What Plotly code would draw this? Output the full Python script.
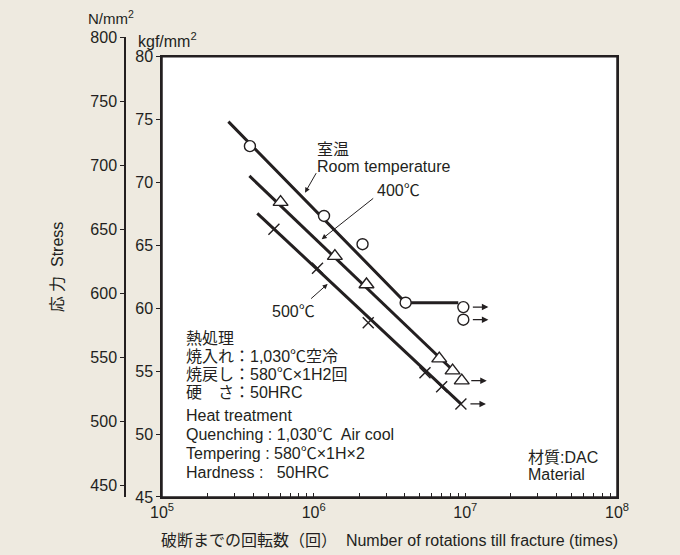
import math
import plotly.graph_objects as go

G = 9.80665  # N per kgf

# ---------------- data ----------------
rt_x = [3.8e5, 1.17e6, 2.1e6, 4.04e6]
rt_y = [72.9, 67.35, 65.1, 60.45]
rt_run_x = [9.7e6, 9.7e6]
rt_run_y = [60.1, 59.1]
rt_line_x = [2.74e5, 4.04e6, 8.98e6]
rt_line_y = [74.85, 60.45, 60.45]

t400_x = [6.05e5, 1.38e6, 2.23e6, 6.73e6, 8.24e6]
t400_y = [68.45, 64.15, 61.9, 56.0, 55.05]
t400_run_x = [9.47e6]
t400_run_y = [54.25]
t400_line_x = [3.77e5, 8.24e6]
t400_line_y = [70.53, 55.1]

c500_x = [5.47e5, 1.06e6, 2.29e6, 5.42e6, 6.98e6]
c500_y = [66.29, 63.19, 58.86, 54.88, 53.77]
c500_run_x = [9.35e6]
c500_run_y = [52.4]
c500_line_x = [4.25e5, 9.35e6]
c500_line_y = [67.56, 52.4]

kgf_ticks = [45, 50, 55, 60, 65, 70, 75, 80]
n_ticks = [450, 500, 550, 600, 650, 700, 750, 800]
x_decades = [5, 6, 7, 8]

jp_lines = ["熱処理", "焼入れ：1,030℃空冷", "焼戻し：580℃×1H2回", "硬　さ：50HRC"]
en_lines = ["Heat treatment", "Quenching : 1,030℃  Air cool", "Tempering : 580℃×1H×2", "Hardness :   50HRC"]

# ---------------- layout geometry ----------------
W, H = 680, 555
L, R, T, B = 125, 63, 37, 58
PW, PH = W - L - R, H - T - B
x_dom0 = (162 - L) / PW
y_top = (80 * G - 45 * G) / (800 - 45 * G)

BG = "#EEEAE0"
INK = "#231F20"
FONT = "Liberation Sans, Arial, Noto Sans CJK JP, sans-serif"


def px(xp):
    return (xp - L) / PW


def py(yp):
    return (H - B - yp) / PH


# x ticks: decades labelled, 2..9 unlabelled
x_tickvals, x_ticktext = [], []
for d in x_decades:
    x_tickvals.append(10 ** d)
    x_ticktext.append(f"10<sup>{d}</sup>")
    if d < x_decades[-1]:
        for m in range(2, 10):
            x_tickvals.append(m * 10 ** d)
            x_ticktext.append("")

fig = go.Figure()

LINE = dict(color=INK, width=3)
# lines
fig.add_trace(go.Scatter(x=rt_line_x, y=rt_line_y, mode="lines", line=LINE, hoverinfo="skip"))
fig.add_trace(go.Scatter(x=t400_line_x, y=t400_line_y, mode="lines", line=LINE, hoverinfo="skip"))
fig.add_trace(go.Scatter(x=c500_line_x, y=c500_line_y, mode="lines", line=LINE, hoverinfo="skip"))

circ = dict(symbol="circle", size=11, color="white", line=dict(color=INK, width=1.4))
tri = dict(symbol="triangle-up", size=13, color="white", line=dict(color=INK, width=1.4))
crs = dict(symbol="x-thin", size=11, color=INK, line=dict(color=INK, width=1.4))

fig.add_trace(go.Scatter(x=rt_x + rt_run_x, y=rt_y + rt_run_y, mode="markers", marker=circ))
fig.add_trace(go.Scatter(x=t400_x + t400_run_x, y=t400_y + t400_run_y, mode="markers", marker=tri))
fig.add_trace(go.Scatter(x=c500_x + c500_run_x, y=c500_y + c500_run_y, mode="markers", marker=crs))

# dummy trace for the N/mm2 axis
fig.add_trace(go.Scatter(x=[1e6], y=[600], xaxis="x", yaxis="y2", mode="markers",
                         marker=dict(opacity=0), hoverinfo="skip"))

# white plotting area with its frame
fig.add_shape(type="rect", xref="x domain", yref="y domain", x0=0, x1=1, y0=0, y1=1,
              fillcolor="white", line=dict(width=1.5, color=INK), layer="below")

anns = []
# run-out arrows
for xs, ys in [(rt_run_x, rt_run_y), (t400_run_x, t400_run_y), (c500_run_x, c500_run_y)]:
    for xv, yv in zip(xs, ys):
        anns.append(dict(x=math.log10(xv) + 0.165, y=yv, xref="x", yref="y", text="",
                         showarrow=True, ax=-17, ay=0, arrowhead=2, arrowsize=1,
                         arrowwidth=1.3, arrowcolor=INK))

# callout arrows
for (xl, yv, ax, ay) in [(5.943, 69.2, 12, -21), (6.053, 65.5, 53, -42), (6.092, 61.94, -18, 16)]:
    anns.append(dict(x=xl, y=yv, xref="x", yref="y", text="", showarrow=True,
                     ax=ax, ay=ay, arrowhead=2, arrowsize=1, arrowwidth=1, arrowcolor=INK))


def text(t, xp, yp, anchor="left", size=16):
    anns.append(dict(x=px(xp), y=py(yp), xref="paper", yref="paper", text=t,
                     showarrow=False, xanchor=anchor, yanchor="middle",
                     font=dict(family=FONT, size=size, color=INK)))


text("室温", 315, 149)
text("Room temperature", 315, 166)
text("400℃", 375, 191)
text("500℃", 270, 311)

for i, s in enumerate(jp_lines):
    text(s, 184, 338 + i * 18.2)
for i, s in enumerate(en_lines):
    text(s, 184, 415 + i * 19.3)

text("材質:DAC", 526, 457)
text("Material", 526, 474)

text("N/mm<sup>2</sup>", 111, 18, anchor="center", size=15)
text("kgf/mm<sup>2</sup>", 136, 40)

fig.update_layout(
    width=W, height=H,
    margin=dict(l=L, r=R, t=T, b=B, autoexpand=False),
    paper_bgcolor=BG, plot_bgcolor="rgba(0,0,0,0)",
    showlegend=False,
    font=dict(family=FONT, size=16, color=INK),
    annotations=anns,
    xaxis=dict(type="log", range=[5, 8], domain=[x_dom0, 1], anchor="y",
               tickvals=x_tickvals, ticktext=x_ticktext, ticks="inside", ticklen=4,
               tickcolor=INK, tickwidth=1, showline=True, linecolor=INK, linewidth=1.5,
               mirror=True, showgrid=False, zeroline=False,
               tickfont=dict(size=16, color=INK),
               title=dict(text="破断までの回転数（回）  Number of rotations till fracture (times)",
                          font=dict(size=16, color=INK), standoff=15)),
    yaxis=dict(range=[45, 80], domain=[0, y_top], anchor="x",
               tickvals=kgf_ticks, ticks="outside", ticklen=4, tickcolor=INK,
               showline=True, linecolor=INK, linewidth=1.5, mirror=True,
               showgrid=False, zeroline=False, tickfont=dict(size=16, color=INK)),
    yaxis2=dict(range=[45 * G, 800], domain=[0, 1], anchor="free", position=0, side="left",
                tickvals=n_ticks, ticks="outside", ticklen=4, tickcolor=INK,
                showline=True, linecolor=INK, linewidth=1.5,
                showgrid=False, zeroline=False, tickfont=dict(size=16, color=INK),
                title=dict(text="応 力  Stress", font=dict(size=16, color=INK), standoff=22)),
)

fig.write_html("out.html")
